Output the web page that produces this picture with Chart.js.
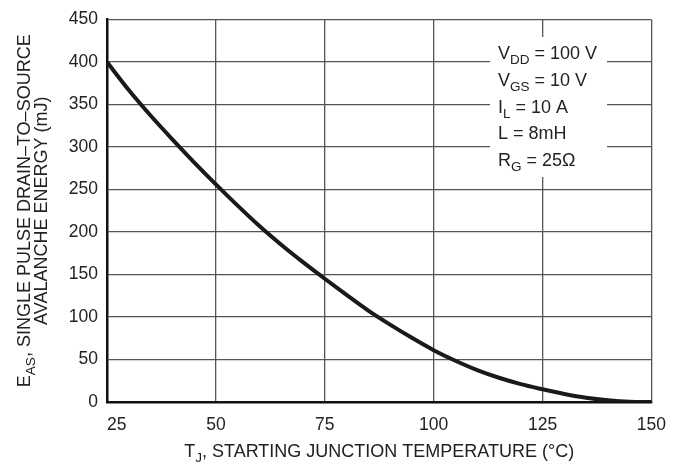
<!DOCTYPE html>
<html>
<head>
<meta charset="utf-8">
<script src="https://cdn.jsdelivr.net/npm/chart.js@4"></script>
<style>
  html, body { margin: 0; padding: 0; background: #fff; }
  canvas { display: block; }
</style>
</head>
<body>
<canvas id="eas" width="679" height="464"></canvas>
<script>
// starting junction temperature (°C) and avalanche energy (mJ)
const tempC = [25, 30, 35, 40, 45, 50, 55, 60, 65, 70, 75, 80, 85, 90, 95, 100, 105, 110, 115, 120, 125, 130, 135, 140, 145, 150];
const energy = [400, 367, 337, 309, 282, 256, 231, 207, 185, 164.5, 145, 126, 107.5, 91, 75.5, 61, 48.5, 37.5, 28.5, 21, 15, 9.5, 5, 2, 0.3, 0];
const xTicks = [25, 50, 75, 100, 125, 150];
const yTicks = [0, 50, 100, 150, 200, 250, 300, 350, 400, 450];

// test conditions box
const conditions = [
  [["V"], ["DD", 1], [" = 100 V"]],
  [["V"], ["GS", 1], [" = 10 V"]],
  [["I"], ["L", 1], [" = 10 A"]],
  [["L = 8mH"]],
  [["R"], ["G", 1], [" = 25Ω"]]
];

const FONT = "'Liberation Sans', Arial, sans-serif";
const INK = "#222";

// draws a run of text pieces, pieces flagged 1 are subscripts
function drawRich(ctx, parts, x, y, size) {
  let cx = x;
  parts.forEach(p => {
    const sub = p[1] === 1;
    ctx.font = (sub ? size * 0.75 : size) + "px " + FONT;
    ctx.fillText(p[0], cx, sub ? y + size * 0.3 : y);
    cx += ctx.measureText(p[0]).width;
  });
  return cx - x;
}
function richWidth(ctx, parts, size) {
  let w = 0;
  parts.forEach(p => {
    ctx.font = (p[1] === 1 ? size * 0.75 : size) + "px " + FONT;
    w += ctx.measureText(p[0]).width;
  });
  return w;
}

const labelsPlugin = {
  id: "labels",
  afterDraw(chart) {
    const ctx = chart.ctx;
    const area = chart.chartArea;
    ctx.save();
    ctx.fillStyle = INK;
    ctx.textBaseline = "alphabetic";
    ctx.textAlign = "left";

    // x title
    const xt = [["T"], ["J", 1], [", STARTING JUNCTION TEMPERATURE (°C)"]];
    const xw = richWidth(ctx, xt, 18);
    drawRich(ctx, xt, (area.left + area.right) / 2 - xw / 2, 457, 18);

    // y title, two rotated lines
    const y1 = [["E"], ["AS", 1], [", SINGLE PULSE DRAIN–TO–SOURCE"]];
    const y2 = [["AVALANCHE ENERGY (mJ)"]];
    const cy = (area.top + area.bottom) / 2;
    [[y1, 30], [y2, 47]].forEach(([parts, bx]) => {
      ctx.save();
      ctx.translate(bx, cy);
      ctx.rotate(-Math.PI / 2);
      const w = richWidth(ctx, parts, 18);
      drawRich(ctx, parts, -w / 2, 0, 18);
      ctx.restore();
    });

    // conditions box with white backing over the grid
    ctx.fillStyle = "#fff";
    ctx.fillRect(490, 37, 117, 140);
    ctx.fillStyle = INK;
    const base = [59, 86, 112.5, 139, 165.5];
    conditions.forEach((parts, i) => drawRich(ctx, parts, 498, base[i], 18));
    ctx.restore();
  }
};

new Chart(document.getElementById("eas"), {
  type: "line",
  data: {
    datasets: [{
      data: tempC.map((t, i) => ({ x: t, y: energy[i] })),
      borderColor: "#1a1a1a",
      borderWidth: 4,
      pointRadius: 0,
      cubicInterpolationMode: "monotone",
      fill: false
    }]
  },
  options: {
    responsive: false,
    animation: false,
    devicePixelRatio: 1,
    layout: { padding: { top: 17, right: 24, left: 0, bottom: 0 } },
    plugins: { legend: { display: false }, tooltip: { enabled: false } },
    scales: {
      x: {
        type: "linear",
        min: 25,
        max: 150,
        afterBuildTicks: s => { s.ticks = xTicks.map(v => ({ value: v })); },
        afterFit: s => { s.height = 62; },
        grid: { color: "#555", lineWidth: 1.3, drawTicks: false },
        border: { display: true, color: "#111", width: 2.5 },
        ticks: {
          padding: 13, color: INK, font: { family: FONT, size: 17.5 }, maxRotation: 0,
          // first label sits a little right of the axis, clear of the y labels
          callback: v => (v === 25 ? "    25" : String(v))
        }
      },
      y: {
        min: 0,
        max: 450,
        afterBuildTicks: s => { s.ticks = yTicks.map(v => ({ value: v })); },
        afterFit: s => { s.width = 107; },
        grid: { color: "#555", lineWidth: 1.3, drawTicks: false },
        border: { display: true, color: "#111", width: 2.5 },
        ticks: { padding: 9, color: INK, font: { family: FONT, size: 17.5 } }
      }
    }
  },
  plugins: [labelsPlugin]
});
</script>
</body>
</html>
